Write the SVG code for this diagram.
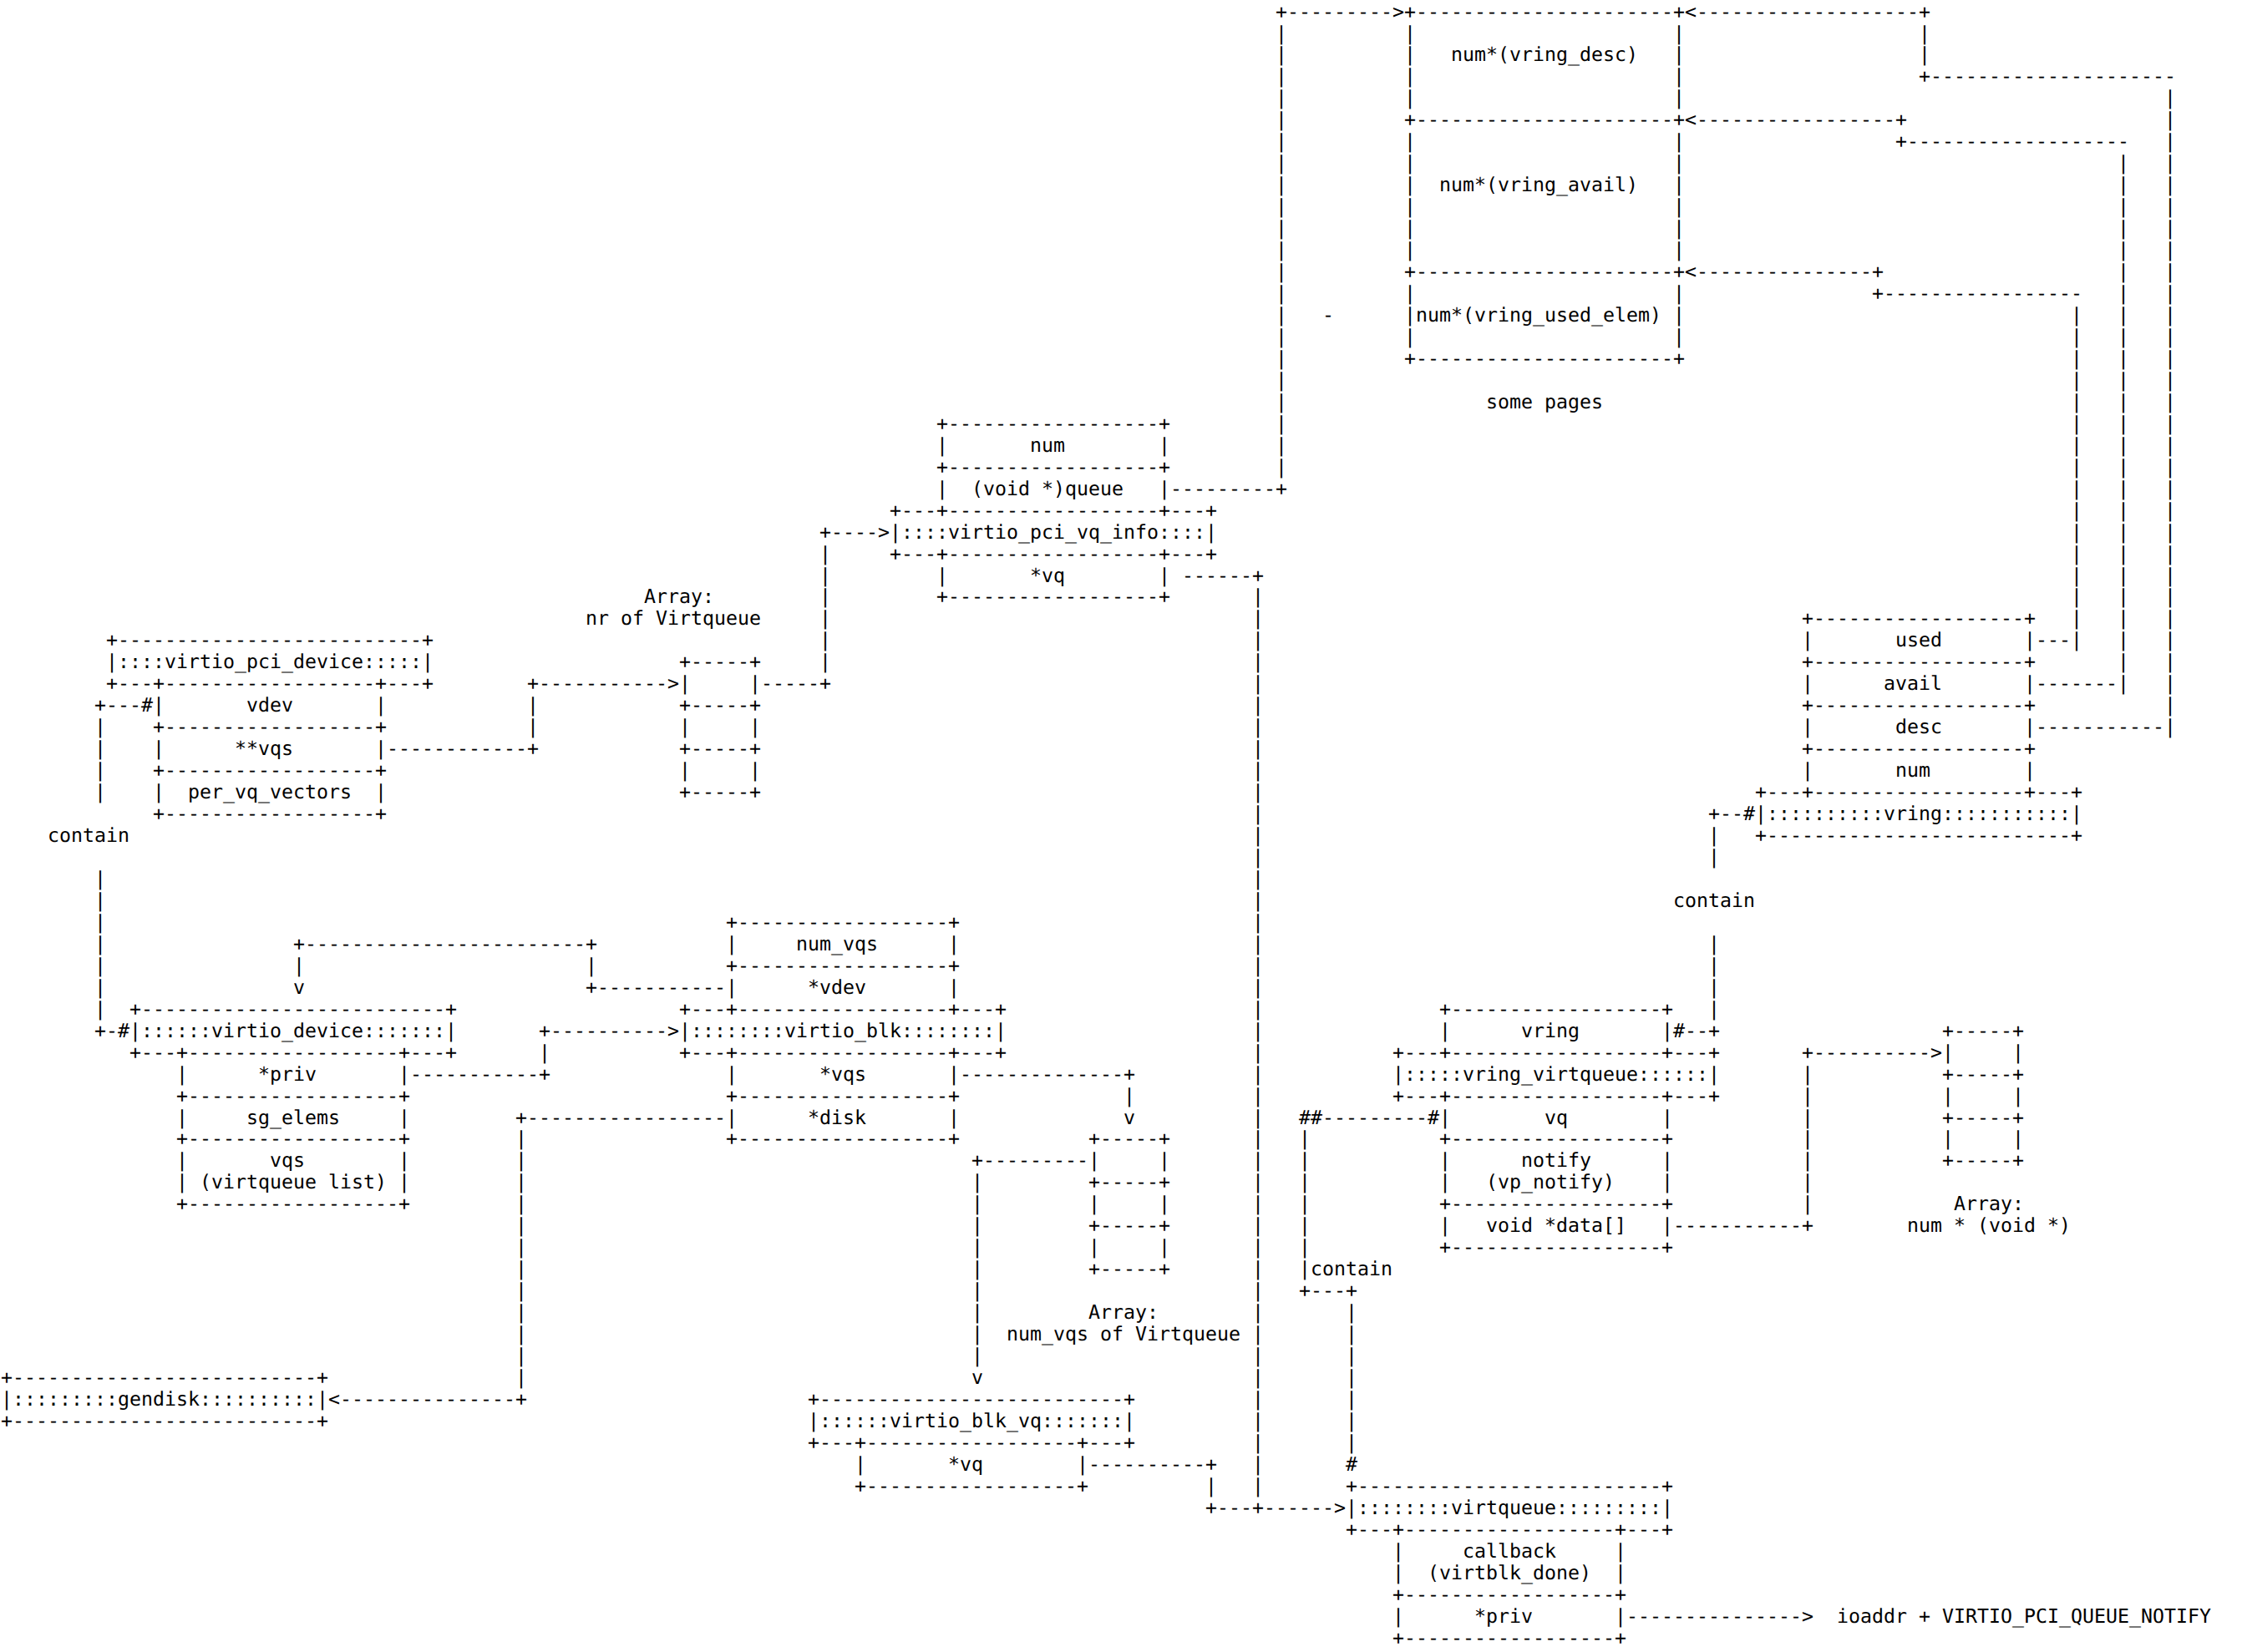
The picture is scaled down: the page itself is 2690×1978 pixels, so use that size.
<svg xmlns="http://www.w3.org/2000/svg" width="2690" height="1978" viewBox="0 0 2690 1978">
<style>
text{font-family:"DejaVu Sans Mono","Liberation Mono",monospace;font-size:23.25px;fill:#000;white-space:pre;text-rendering:geometricPrecision}
</style>
<rect width="2690" height="1978" fill="#fff"/>

<g id="vring_pages">
<text x="1681" y="21.5">+----------------------+</text>
<text x="1681" y="47.5">|                      |</text>
<text x="1681" y="73.4">|   num*(vring_desc)   |</text>
<text x="1681" y="99.4">|                      |</text>
<text x="1681" y="125.3">|                      |</text>
<text x="1681" y="151.3">+----------------------+</text>
<text x="1681" y="177.3">|                      |</text>
<text x="1681" y="203.2">|                      |</text>
<text x="1681" y="229.2">|  num*(vring_avail)   |</text>
<text x="1681" y="255.1">|                      |</text>
<text x="1681" y="281.1">|                      |</text>
<text x="1681" y="307.1">|                      |</text>
<text x="1681" y="333.0">+----------------------+</text>
<text x="1681" y="359.0">|                      |</text>
<text x="1681" y="384.9">|num*(vring_used_elem) |</text>
<text x="1681" y="410.9">|                      |</text>
<text x="1681" y="436.9">+----------------------+</text>
<text x="1779" y="488.8">some pages</text>
</g>

<g id="virtio_pci_vq_info">
<text x="1121" y="514.7">+------------------+</text>
<text x="1121" y="540.7">|       num        |</text>
<text x="1121" y="566.7">+------------------+</text>
<text x="1121" y="592.6">|  (void *)queue   |</text>
<text x="1065" y="618.6">+---+------------------+---+</text>
<text x="1065" y="644.5">|::::virtio_pci_vq_info::::|</text>
<text x="1065" y="670.5">+---+------------------+---+</text>
<text x="1121" y="696.5">|       *vq        |</text>
<text x="1121" y="722.4">+------------------+</text>
</g>

<g id="array_nr_of_virtqueue">
<text x="771" y="722.4">Array:</text>
<text x="701" y="748.4">nr of Virtqueue</text>
<text x="813" y="800.3">+-----+</text>
<text x="813" y="826.3">|     |</text>
<text x="813" y="852.2">+-----+</text>
<text x="813" y="878.2">|     |</text>
<text x="813" y="904.1">+-----+</text>
<text x="813" y="930.1">|     |</text>
<text x="813" y="956.1">+-----+</text>
</g>

<g id="virtio_pci_device">
<text x="127" y="774.3">+--------------------------+</text>
<text x="127" y="800.3">|::::virtio_pci_device:::::|</text>
<text x="127" y="826.3">+---+------------------+---+</text>
<text x="183" y="852.2">|       vdev       |</text>
<text x="183" y="878.2">+------------------+</text>
<text x="183" y="904.1">|      **vqs       |</text>
<text x="183" y="930.1">+------------------+</text>
<text x="183" y="956.1">|  per_vq_vectors  |</text>
<text x="183" y="982.0">+------------------+</text>
</g>

<g id="vring">
<text x="2157" y="748.4">+------------------+</text>
<text x="2157" y="774.3">|       used       |</text>
<text x="2157" y="800.3">+------------------+</text>
<text x="2157" y="826.3">|      avail       |</text>
<text x="2157" y="852.2">+------------------+</text>
<text x="2157" y="878.2">|       desc       |</text>
<text x="2157" y="904.1">+------------------+</text>
<text x="2157" y="930.1">|       num        |</text>
<text x="2101" y="956.1">+---+------------------+---+</text>
<text x="2101" y="982.0">|::::::::::vring:::::::::::|</text>
<text x="2101" y="1008.0">+--------------------------+</text>
</g>

<g id="virtio_blk">
<text x="869" y="1111.8">+------------------+</text>
<text x="869" y="1137.8">|     num_vqs      |</text>
<text x="869" y="1163.7">+------------------+</text>
<text x="869" y="1189.7">|      *vdev       |</text>
<text x="813" y="1215.7">+---+------------------+---+</text>
<text x="813" y="1241.6">|::::::::virtio_blk::::::::|</text>
<text x="813" y="1267.6">+---+------------------+---+</text>
<text x="869" y="1293.5">|       *vqs       |</text>
<text x="869" y="1319.5">+------------------+</text>
<text x="869" y="1345.5">|      *disk       |</text>
<text x="869" y="1371.4">+------------------+</text>
</g>

<g id="virtio_device">
<text x="155" y="1215.7">+--------------------------+</text>
<text x="155" y="1241.6">|::::::virtio_device:::::::|</text>
<text x="155" y="1267.6">+---+------------------+---+</text>
<text x="211" y="1293.5">|      *priv       |</text>
<text x="211" y="1319.5">+------------------+</text>
<text x="211" y="1345.5">|     sg_elems     |</text>
<text x="211" y="1371.4">+------------------+</text>
<text x="211" y="1397.4">|       vqs        |</text>
<text x="211" y="1423.3">| (virtqueue list) |</text>
<text x="211" y="1449.3">+------------------+</text>
</g>

<g id="array_num_vqs_of_virtqueue">
<text x="1303" y="1371.4">+-----+</text>
<text x="1303" y="1397.4">|     |</text>
<text x="1303" y="1423.3">+-----+</text>
<text x="1303" y="1449.3">|     |</text>
<text x="1303" y="1475.3">+-----+</text>
<text x="1303" y="1501.2">|     |</text>
<text x="1303" y="1527.2">+-----+</text>
<text x="1303" y="1579.1">Array:</text>
<text x="1205" y="1605.1">num_vqs of Virtqueue</text>
</g>

<g id="vring_virtqueue">
<text x="1723" y="1215.7">+------------------+</text>
<text x="1723" y="1241.6">|      vring       |</text>
<text x="1667" y="1267.6">+---+------------------+---+</text>
<text x="1667" y="1293.5">|:::::vring_virtqueue::::::|</text>
<text x="1667" y="1319.5">+---+------------------+---+</text>
<text x="1723" y="1345.5">|        vq        |</text>
<text x="1723" y="1371.4">+------------------+</text>
<text x="1723" y="1397.4">|      notify      |</text>
<text x="1723" y="1423.3">|   (vp_notify)    |</text>
<text x="1723" y="1449.3">+------------------+</text>
<text x="1723" y="1475.3">|   void *data[]   |</text>
<text x="1723" y="1501.2">+------------------+</text>
</g>

<g id="array_num_void_ptr">
<text x="2325" y="1241.6">+-----+</text>
<text x="2325" y="1267.6">|     |</text>
<text x="2325" y="1293.5">+-----+</text>
<text x="2325" y="1319.5">|     |</text>
<text x="2325" y="1345.5">+-----+</text>
<text x="2325" y="1371.4">|     |</text>
<text x="2325" y="1397.4">+-----+</text>
<text x="2339" y="1449.3">Array:</text>
<text x="2283" y="1475.3">num * (void *)</text>
</g>

<g id="gendisk">
<text x="1" y="1657.0">+--------------------------+</text>
<text x="1" y="1682.9">|:::::::::gendisk::::::::::|</text>
<text x="1" y="1708.9">+--------------------------+</text>
</g>

<g id="virtio_blk_vq">
<text x="967" y="1682.9">+--------------------------+</text>
<text x="967" y="1708.9">|::::::virtio_blk_vq:::::::|</text>
<text x="967" y="1734.9">+---+------------------+---+</text>
<text x="1023" y="1760.8">|       *vq        |</text>
<text x="1023" y="1786.8">+------------------+</text>
</g>

<g id="virtqueue">
<text x="1611" y="1786.8">+--------------------------+</text>
<text x="1611" y="1812.7">|::::::::virtqueue:::::::::|</text>
<text x="1611" y="1838.7">+---+------------------+---+</text>
<text x="1667" y="1864.7">|     callback     |</text>
<text x="1667" y="1890.6">|  (virtblk_done)  |</text>
<text x="1667" y="1916.6">+------------------+</text>
<text x="1667" y="1942.5">|      *priv       |</text>
<text x="1667" y="1968.5">+------------------+</text>
</g>

<g id="ioaddr_notify">
<text x="2199" y="1942.5">ioaddr + VIRTIO_PCI_QUEUE_NOTIFY</text>
</g>

<g id="connectors">
<g id="queue_to_pages">
<text x="1401" y="592.6">---------+</text>
<text x="1527 1527 1527 1527 1527 1527 1527 1527 1527 1527 1527 1527 1527 1527 1527 1527 1527 1527 1527 1527 1527" y="47.5 73.4 99.4 125.3 151.3 177.3 203.2 229.2 255.1 281.1 307.1 333.0 359.0 384.9 410.9 436.9 462.8 488.8 514.7 540.7 566.7">|||||||||||||||||||||</text>
<text x="1527" y="21.5">+---------&gt;</text>
<text x="1583" y="384.9">-</text>
</g>
<g id="desc_to_pages">
<text x="2437" y="878.2">-----------|</text>
<text x="2591 2591 2591 2591 2591 2591 2591 2591 2591 2591 2591 2591 2591 2591 2591 2591 2591 2591 2591 2591 2591 2591 2591 2591 2591 2591 2591 2591 2591" y="125.3 151.3 177.3 203.2 229.2 255.1 281.1 307.1 333.0 359.0 384.9 410.9 436.9 462.8 488.8 514.7 540.7 566.7 592.6 618.6 644.5 670.5 696.5 722.4 748.4 774.3 800.3 826.3 852.2">|||||||||||||||||||||||||||||</text>
<text x="2297" y="99.4">+---------------------</text>
<text x="2297 2297" y="47.5 73.4">||</text>
<text x="2017" y="21.5">&lt;-------------------+</text>
</g>
<g id="avail_to_pages">
<text x="2437" y="826.3">-------|</text>
<text x="2535 2535 2535 2535 2535 2535 2535 2535 2535 2535 2535 2535 2535 2535 2535 2535 2535 2535 2535 2535 2535 2535 2535 2535" y="203.2 229.2 255.1 281.1 307.1 333.0 359.0 384.9 410.9 436.9 462.8 488.8 514.7 540.7 566.7 592.6 618.6 644.5 670.5 696.5 722.4 748.4 774.3 800.3">||||||||||||||||||||||||</text>
<text x="2269" y="177.3">+-------------------</text>
<text x="2017" y="151.3">&lt;-----------------+</text>
</g>
<g id="used_to_pages">
<text x="2437" y="774.3">---|</text>
<text x="2479 2479 2479 2479 2479 2479 2479 2479 2479 2479 2479 2479 2479 2479 2479" y="384.9 410.9 436.9 462.8 488.8 514.7 540.7 566.7 592.6 618.6 644.5 670.5 696.5 722.4 748.4">|||||||||||||||</text>
<text x="2241" y="359.0">+-----------------</text>
<text x="2017" y="333.0">&lt;---------------+</text>
</g>
<g id="vq_info_vq_to_virtqueue">
<text x="1415" y="696.5">------+</text>
<text x="1499 1499 1499 1499 1499 1499 1499 1499 1499 1499 1499 1499 1499 1499 1499 1499 1499 1499 1499 1499 1499 1499 1499 1499 1499 1499 1499 1499 1499 1499 1499 1499 1499 1499 1499 1499 1499 1499 1499 1499 1499 1499" y="722.4 748.4 774.3 800.3 826.3 852.2 878.2 904.1 930.1 956.1 982.0 1008.0 1033.9 1059.9 1085.9 1111.8 1137.8 1163.7 1189.7 1215.7 1241.6 1267.6 1293.5 1319.5 1345.5 1371.4 1397.4 1423.3 1449.3 1475.3 1501.2 1527.2 1553.1 1579.1 1605.1 1631.0 1657.0 1682.9 1708.9 1734.9 1760.8 1786.8">||||||||||||||||||||||||||||||||||||||||||</text>
<text x="1443" y="1812.7">+---+------&gt;</text>
</g>
<g id="blk_vq_to_virtqueue">
<text x="1303" y="1760.8">----------+</text>
<text x="1443" y="1786.8">|</text>
</g>
<g id="array_nr_to_vq_info">
<text x="911" y="826.3">-----+</text>
<text x="981 981 981 981 981 981" y="670.5 696.5 722.4 748.4 774.3 800.3">||||||</text>
<text x="981" y="644.5">+----&gt;</text>
</g>
<g id="pci_vqs_to_array_nr">
<text x="463" y="904.1">------------+</text>
<text x="631 631" y="852.2 878.2">||</text>
<text x="631" y="826.3">+-----------&gt;</text>
</g>
<g id="pci_device_contain_virtio_device">
<text x="113" y="852.2">+---#</text>
<text x="113 113 113 113" y="878.2 904.1 930.1 956.1">||||</text>
<text x="57" y="1008.0">contain</text>
<text x="113 113 113 113 113 113 113" y="1059.9 1085.9 1111.8 1137.8 1163.7 1189.7 1215.7">|||||||</text>
<text x="113" y="1241.6">+-#</text>
</g>
<g id="blk_vdev_to_virtio_device">
<text x="701" y="1189.7">+-----------</text>
<text x="701" y="1163.7">|</text>
<text x="351" y="1137.8">+------------------------+</text>
<text x="351" y="1163.7">|</text>
<text x="351" y="1189.7">v</text>
</g>
<g id="device_priv_to_blk">
<text x="491" y="1293.5">-----------+</text>
<text x="645" y="1267.6">|</text>
<text x="645" y="1241.6">+----------&gt;</text>
</g>
<g id="blk_disk_to_gendisk">
<text x="617" y="1345.5">+-----------------</text>
<text x="617 617 617 617 617 617 617 617 617 617 617 617" y="1371.4 1397.4 1423.3 1449.3 1475.3 1501.2 1527.2 1553.1 1579.1 1605.1 1631.0 1657.0">||||||||||||</text>
<text x="393" y="1682.9">&lt;---------------+</text>
</g>
<g id="blk_vqs_to_array">
<text x="1149" y="1293.5">--------------+</text>
<text x="1345" y="1319.5">|</text>
<text x="1345" y="1345.5">v</text>
</g>
<g id="array_to_blk_vq">
<text x="1163" y="1397.4">+---------</text>
<text x="1163 1163 1163 1163 1163 1163 1163 1163 1163" y="1423.3 1449.3 1475.3 1501.2 1527.2 1553.1 1579.1 1605.1 1631.0">|||||||||</text>
<text x="1163" y="1657.0">v</text>
</g>
<g id="vring_contain_vring_virtqueue">
<text x="2045" y="982.0">+--#</text>
<text x="2045 2045" y="1008.0 1033.9">||</text>
<text x="2003" y="1085.9">contain</text>
<text x="2045 2045 2045 2045" y="1137.8 1163.7 1189.7 1215.7">||||</text>
<text x="2003" y="1241.6">#--+</text>
</g>
<g id="vring_virtqueue_contain_virtqueue">
<text x="1555" y="1345.5">##---------#</text>
<text x="1555 1555 1555 1555 1555 1555" y="1371.4 1397.4 1423.3 1449.3 1475.3 1501.2">||||||</text>
<text x="1555" y="1527.2">|contain</text>
<text x="1555" y="1553.1">+---+</text>
<text x="1611 1611 1611 1611 1611 1611 1611" y="1579.1 1605.1 1631.0 1657.0 1682.9 1708.9 1734.9">|||||||</text>
<text x="1611" y="1760.8">#</text>
</g>
<g id="data_to_array">
<text x="2003" y="1475.3">-----------+</text>
<text x="2157 2157 2157 2157 2157 2157 2157" y="1293.5 1319.5 1345.5 1371.4 1397.4 1423.3 1449.3">|||||||</text>
<text x="2157" y="1267.6">+----------&gt;</text>
</g>
<g id="priv_to_notify">
<text x="1947" y="1942.5">---------------&gt;</text>
</g>
</g>
</svg>
